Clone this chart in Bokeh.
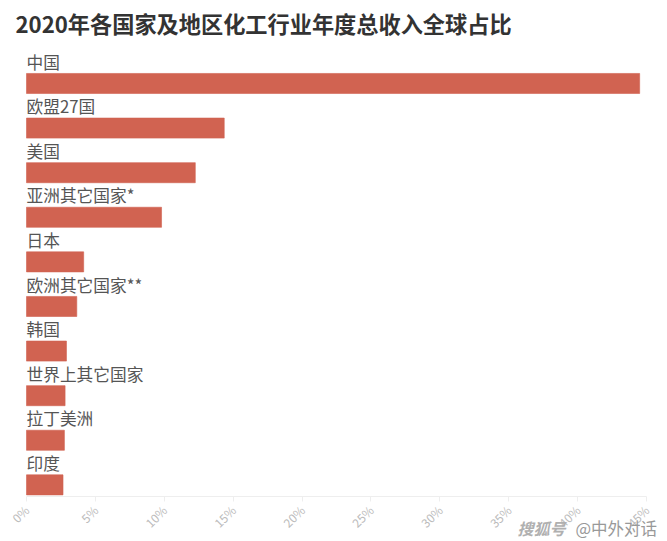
import math
from bokeh.core.properties import value
from bokeh.embed import file_html
from bokeh.resources import INLINE
from bokeh.models import ColumnDataSource, Range1d, Label, LinearAxis
from bokeh.plotting import figure

categories = ["中国", "欧盟27国", "美国", "亚洲其它国家*", "日本", "欧洲其它国家**", "韩国", "世界上其它国家", "拉丁美洲", "印度"]
values = [44.5, 14.35, 12.25, 9.8, 4.15, 3.65, 2.9, 2.8, 2.75, 2.65]
ticks = [0, 5, 10, 15, 20, 25, 30, 35, 40, 45]
tick_labels = ["0%", "5%", "10%", "15%", "20%", "25%", "30%", "35%", "40%", "45%"]
title_text = "2020年各国家及地区化工行业年度总收入全球占比"

FONT = "Noto Sans CJK SC"
rows = list(range(len(categories)))
source = ColumnDataSource(dict(cat=categories, val=values, zero=[0] * len(values),
                               bar_y=[r + 0.24 for r in rows], text_y=[r - 0.25 for r in rows]))

H = 541
p = figure(width=659, height=H, x_range=Range1d(-1.887, 45.94), y_range=Range1d(10.51, -1.621),
           x_axis_type=None, y_axis_type=None,
           output_backend="svg", toolbar_location=None,
           min_border_left=0, min_border_right=0, min_border_top=0, min_border_bottom=0)

p.hbar(y="bar_y", left="zero", right="val", height=0.45, source=source,
       fill_color="#d16351", line_color="#d16351", line_alpha=0.6, line_width=1)
p.text(x="zero", y="text_y", text="cat", source=source,
       text_font=value(FONT), text_font_size="16.7px", text_color="#555555",
       text_align="left", text_baseline="middle")

p.outline_line_color = None
ax = LinearAxis(fixed_location=9.5, bounds=(0, 45))
ax.ticker = ticks
ax.major_label_overrides = {t: l for t, l in zip(ticks, tick_labels)}
ax.major_label_orientation = math.pi / 4
ax.major_label_text_font = FONT
ax.major_label_text_font_size = "12px"
ax.major_label_text_color = "#bbbbbb"
ax.major_label_standoff = 6
ax.axis_line_color = "#eeeeee"
ax.major_tick_line_color = "#eeeeee"
ax.major_tick_out = 5
ax.major_tick_in = 0
ax.minor_tick_line_color = None
p.add_layout(ax, "below")

p.add_layout(Label(x=15, y=H - 22, x_units="screen", y_units="screen", text=title_text,
                   text_font=FONT, text_font_size="22.2px", text_font_style="bold",
                   text_color="#333333", text_baseline="middle"))
p.add_layout(Label(x=517, y=H - 527, x_units="screen", y_units="screen", text="搜狐号",
                   text_font=FONT, text_font_size="16px", text_font_style="bold italic",
                   text_color="#b0b0b0", text_baseline="middle"))
p.add_layout(Label(x=575, y=H - 527, x_units="screen", y_units="screen", text="@中外对话",
                   text_font=FONT, text_font_size="16.5px", text_color="#999999",
                   text_baseline="middle"))

open("out.html", "w").write(file_html(p, INLINE))
